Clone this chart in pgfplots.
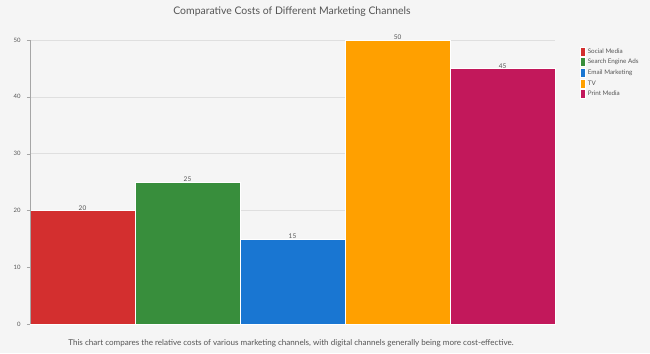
\documentclass[border=0pt]{standalone}
\usepackage{pgfplots}
\pgfplotsset{compat=1.18}
\usepackage{fontspec}
\setmainfont{Lato}
\definecolor{bg}{HTML}{F5F5F5}
\definecolor{txt}{HTML}{555555}
\definecolor{cA}{HTML}{D32F2F}
\definecolor{cB}{HTML}{388E3C}
\definecolor{cC}{HTML}{1976D2}
\definecolor{cD}{HTML}{FFA000}
\definecolor{cE}{HTML}{C2185B}
\begin{document}
\begin{tikzpicture}[x=1bp,y=1bp]
\fill[bg] (0,0) rectangle (650,353);
\node[text=txt,font=\fontsize{10.5}{12}\selectfont] at (292,341) {Comparative Costs of Different Marketing Channels};
\node[text=txt,font=\fontsize{8.1}{9}\selectfont] at (291,10) {This chart compares the relative costs of various marketing channels, with digital channels generally being more cost-effective.};
\begin{axis}[
  at={(30bp,29bp)}, anchor=south west,
  width=525bp, height=284bp, scale only axis,
  xmin=-0.5, xmax=4.5, ymin=0, ymax=50,
  axis line style={draw=none},
  axis x line*=bottom, axis y line*=left,
  xtick=\empty,
  ytick={0,10,20,30,40,50},
  ymajorgrids, grid style={gray!25, line width=0.5pt},
  major tick length=3bp,
  y tick style={draw=gray!70},
  tick align=outside,
  yticklabel style={text=txt, font=\fontsize{6}{7}\selectfont, xshift=-3bp},
  /pgf/number format/assume math mode=true,
  clip=false,
  nodes near coords,
  every node near coord/.append style={text=txt, font=\fontsize{6.5}{7}\selectfont, yshift=-3.5bp},
  legend style={at={(1.042,0.985)}, anchor=north west, draw=none, fill=none,
    font=\fontsize{6.3}{7}\selectfont, text=txt, row sep=0.6bp,
    legend cell align=left},
  legend image code/.code={\fill[#1] (0bp,-4.5bp) rectangle (5bp,4.5bp);},
]
\addplot[ybar, bar width=1, bar shift=0pt, fill=cA, draw=white, line width=0.6pt] coordinates {(0,20)};
\addlegendentry{Social Media}
\addplot[ybar, bar width=1, bar shift=0pt, fill=cB, draw=white, line width=0.6pt] coordinates {(1,25)};
\addlegendentry{Search Engine Ads}
\addplot[ybar, bar width=1, bar shift=0pt, fill=cC, draw=white, line width=0.6pt] coordinates {(2,15)};
\addlegendentry{Email Marketing}
\addplot[ybar, bar width=1, bar shift=0pt, fill=cD, draw=white, line width=0.6pt] coordinates {(3,50)};
\addlegendentry{TV}
\addplot[ybar, bar width=1, bar shift=0pt, fill=cE, draw=white, line width=0.6pt] coordinates {(4,45)};
\addlegendentry{Print Media}
\draw[gray!70, line width=0.6pt] (rel axis cs:0,0) -- (rel axis cs:0,1);
\end{axis}
\end{tikzpicture}
\end{document}
